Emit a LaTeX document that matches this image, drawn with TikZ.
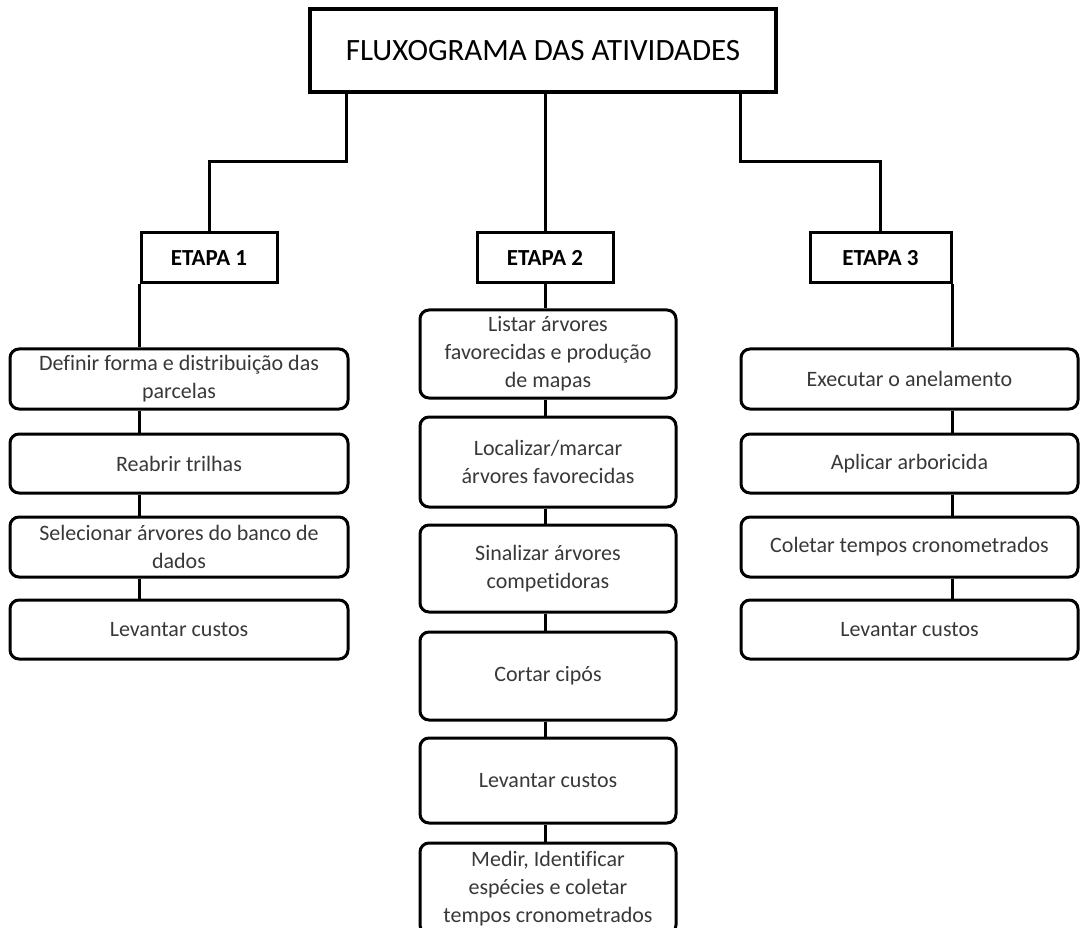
\documentclass[tikz,border=0pt]{standalone}
\usepackage{fontspec}
\setmainfont{Carlito}[Ligatures=NoCommon]

\begin{document}
\begin{tikzpicture}[x=1pt, y=-1pt,
  titlebox/.style={draw, line width=4pt, minimum width=466pt, minimum height=83pt, font=\fontsize{31}{36}\selectfont},
  etapa/.style={draw, line width=3pt, minimum height=50pt, font=\fontsize{23}{26}\selectfont\bfseries},
  act/.style={draw, line width=3pt, rounded corners=9pt, align=center, text=black!78, font=\fontsize{22}{28}\selectfont},
  wire/.style={line width=3pt}]
 \useasboundingbox (0,0) rectangle (1080,928);

 \node[titlebox] (top) at (543,50.5) {FLUXOGRAMA DAS ATIVIDADES};
 \node[etapa, minimum width=136pt] (e1) at (209,258) {ETAPA 1};
 \node[etapa, minimum width=136pt] (e2) at (545,258) {ETAPA 2};
 \node[etapa, minimum width=141pt] (e3) at (880.5,258) {ETAPA 3};

 % etapa 1
 \node[act, minimum width=338pt, minimum height=60pt] (a1) at (179,379) {Definir forma e distribuição das\\parcelas};
 \node[act, minimum width=338pt, minimum height=59pt] (a2) at (179,463.5) {Reabrir trilhas};
 \node[act, minimum width=338pt, minimum height=60pt] (a3) at (179,547) {Selecionar árvores do banco de\\dados};
 \node[act, minimum width=338pt, minimum height=59pt] (a4) at (179,629.5) {Levantar custos};

 % etapa 2
 \node[act, minimum width=256pt, minimum height=88pt] (b1) at (548,354) {Listar árvores\\favorecidas e produção\\de mapas};
 \node[act, minimum width=256pt, minimum height=90pt] (b2) at (548,462) {Localizar/marcar\\árvores favorecidas};
 \node[act, minimum width=256pt, minimum height=87pt] (b3) at (548,568.5) {Sinalizar árvores\\competidoras};
 \node[act, minimum width=256pt, minimum height=88pt] (b4) at (548,676) {Cortar cipós};
 \node[act, minimum width=256pt, minimum height=85pt] (b5) at (548,780.5) {Levantar custos};
 \node[act, minimum width=256pt, minimum height=91pt] (b6) at (548,888.5) {Medir, Identificar\\espécies e coletar\\tempos cronometrados};

 % etapa 3
 \node[act, minimum width=337pt, minimum height=60pt] (c1) at (909.5,379) {Executar o anelamento};
 \node[act, minimum width=337pt, minimum height=59pt] (c2) at (909.5,463.5) {Aplicar arboricida};
 \node[act, minimum width=337pt, minimum height=60pt] (c3) at (909.5,547) {Coletar tempos cronometrados};
 \node[act, minimum width=337pt, minimum height=59pt] (c4) at (909.5,629.5) {Levantar custos};

 \coordinate (t1) at (346,162);
 \coordinate (t3) at (740,162);
 \draw[wire] (top.south -| t1) -- (t1) -| (e1.north);
 \draw[wire] (top.south -| e2.north) -- (e2.north);
 \draw[wire] (top.south -| t3) -- (t3) -| (e3.north);

 \foreach \u/\v in {e1/a1, a1/a2, a2/a3, a3/a4}
  \draw[wire] (\u.south -| e1.west) -- (\v.north -| e1.west);
 \foreach \u/\v in {e2/b1, b1/b2, b2/b3, b3/b4, b4/b5, b5/b6}
  \draw[wire] (\u.south -| e2.north) -- (\v.north -| e2.north);
 \foreach \u/\v in {e3/c1, c1/c2, c2/c3, c3/c4}
  \draw[wire] (\u.south -| e3.east) -- (\v.north -| e3.east);
\end{tikzpicture}
\end{document}
